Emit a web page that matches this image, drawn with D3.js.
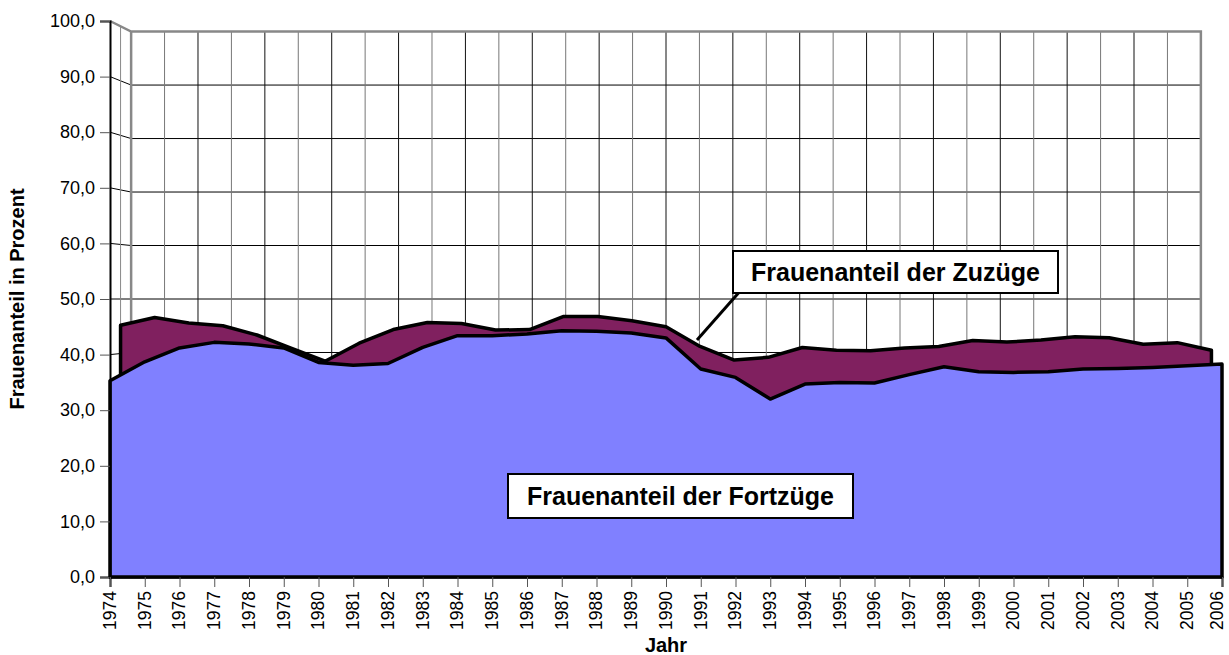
<!DOCTYPE html>
<html>
<head>
<meta charset="utf-8">
<script src="https://cdn.jsdelivr.net/npm/d3@7"></script>
<style>
  body { margin: 0; background: #fff; }
  svg { display: block; font-family: "Liberation Sans", Arial, sans-serif; }
</style>
</head>
<body>
<div id="chart"></div>
<script>
// Data
const years = [1974, 1975, 1976, 1977, 1978, 1979, 1980, 1981, 1982, 1983, 1984,
  1985, 1986, 1987, 1988, 1989, 1990, 1991, 1992, 1993, 1994, 1995, 1996, 1997,
  1998, 1999, 2000, 2001, 2002, 2003, 2004, 2005, 2006];

const fortzuege = [35.3, 38.7, 41.2, 42.2, 41.9, 41.2, 38.6, 38.1, 38.4, 41.3, 43.4,
  43.4, 43.7, 44.3, 44.2, 43.9, 43.0, 37.4, 35.9, 32.0, 34.7, 35.0, 34.9, 36.4,
  37.8, 36.9, 36.8, 36.9, 37.4, 37.5, 37.7, 38.0, 38.3];

const zuzuege = [45.2, 46.6, 45.6, 45.1, 43.4, 41.0, 38.6, 41.9, 44.4, 45.7, 45.5,
  44.3, 44.4, 46.8, 46.8, 46.0, 44.9, 41.3, 38.8, 39.3, 41.1, 40.6, 40.5, 41.0,
  41.3, 42.4, 42.1, 42.5, 43.1, 42.9, 41.7, 42.0, 40.6];

const yTicks = [0, 10, 20, 30, 40, 50, 60, 70, 80, 90, 100];

const labelZuzuege = "Frauenanteil der Zuzüge";
const labelFortzuege = "Frauenanteil der Fortzüge";

const width = 1229, height = 655;
const front = {left: 110, right: 1222, top: 21, bottom: 577};
const center = {x: 666, y: 299};
const backScale = 0.962;   // perspective shrink of the back wall
const midScale = 0.981;    // depth of the back series

const de = d3.formatLocale({decimal: ",", thousands: ".", grouping: [3], currency: ["", "€"]});
const fmt = de.format(".1f");

// scales for a plane at a given perspective factor
const plane = s => ({
  x: d3.scaleLinear().domain([years[0], years[years.length - 1]])
    .range([center.x + (front.left - center.x) * s, center.x + (front.right - center.x) * s]),
  y: d3.scaleLinear().domain([0, 100])
    .range([center.y + (front.bottom - center.y) * s, center.y + (front.top - center.y) * s])
});

const F = plane(1), B = plane(backScale), M = plane(midScale);

const svg = d3.select("#chart").append("svg")
  .attr("width", width).attr("height", height);

// back wall
const wall = svg.append("g");
wall.selectAll("line.h")
  .data(yTicks.filter(v => v > 0 && v < 100))
  .join("line")
    .attr("x1", B.x(years[0])).attr("x2", B.x(2006))
    .attr("y1", d => B.y(d)).attr("y2", d => B.y(d))
    .attr("stroke", "#000").attr("stroke-width", 1);

wall.selectAll("line.v")
  .data(years.slice(1, -1))
  .join("line")
    .attr("x1", d => B.x(d)).attr("x2", d => B.x(d))
    .attr("y1", B.y(100)).attr("y2", B.y(0))
    .attr("stroke", (d, i) => i % 2 ? "#111" : "#777").attr("stroke-width", 1);

// side wall: diagonals from front ticks to back wall
wall.selectAll("line.d")
  .data(yTicks.filter(v => v > 0 && v < 100))
  .join("line")
    .attr("x1", F.x(1974)).attr("x2", B.x(1974))
    .attr("y1", d => F.y(d)).attr("y2", d => B.y(d))
    .attr("stroke", "#000").attr("stroke-width", 1);

wall.append("line")
  .attr("x1", M.x(1974)).attr("x2", M.x(1974))
  .attr("y1", M.y(100)).attr("y2", M.y(0))
  .attr("stroke", "#888").attr("stroke-width", 1);

// wall border
wall.append("path")
  .attr("d", `M${F.x(1974)},${F.y(100)}L${B.x(1974)},${B.y(100)}L${B.x(2006)},${B.y(100)}L${B.x(2006)},${B.y(0)}`)
  .attr("fill", "none").attr("stroke", "#888").attr("stroke-width", 2.5);
wall.append("line")
  .attr("x1", B.x(1974)).attr("x2", B.x(1974))
  .attr("y1", B.y(100)).attr("y2", B.y(0))
  .attr("stroke", "#888").attr("stroke-width", 2.5);

// back series (Zuzüge)
const areaMid = d3.area()
  .x((d, i) => M.x(years[i]))
  .y0(M.y(0))
  .y1(d => M.y(d));

svg.append("path")
  .datum(zuzuege)
  .attr("d", d => areaMid(d) + "Z")
  .attr("fill", "#80205f")
  .attr("stroke", "#000")
  .attr("stroke-width", 3.5)
  .attr("stroke-linejoin", "round");

// front series (Fortzüge)
const areaFront = d3.area()
  .x((d, i) => F.x(years[i]))
  .y0(F.y(0))
  .y1(d => F.y(d));

svg.append("path")
  .datum(fortzuege)
  .attr("d", d => areaFront(d) + "Z")
  .attr("fill", "#8080ff")
  .attr("stroke", "#000")
  .attr("stroke-width", 3.5)
  .attr("stroke-linejoin", "round");

// y axis
const yAxis = svg.append("g")
  .attr("transform", `translate(${front.left},0)`)
  .call(d3.axisLeft(F.y).tickValues(yTicks).tickFormat(fmt).tickSize(10).tickPadding(5));
yAxis.select(".domain").attr("stroke", "#000").attr("stroke-width", 2);
yAxis.selectAll(".tick line").attr("stroke", "#555");
yAxis.selectAll("text")
  .style("font-size", "18px")
  .attr("fill", "#000");

// x axis
const xAxis = svg.append("g")
  .attr("transform", `translate(0,${front.bottom})`)
  .call(d3.axisBottom(F.x).tickValues(years).tickFormat(d3.format("d")).tickSize(10).tickPadding(4));
xAxis.select(".domain").attr("stroke", "#000").attr("stroke-width", 2);
xAxis.selectAll(".tick line").attr("stroke", "#555");
xAxis.selectAll("text")
  .style("font-size", "17.5px")
  .attr("fill", "#000")
  .attr("text-anchor", "end")
  .attr("dy", d => d === 2006 ? "0.05em" : "0.3em")
  .attr("transform", "rotate(-90)")
  .attr("x", -14)
  .attr("y", 0);

// axis titles
svg.append("text")
  .attr("transform", `translate(24,${center.y}) rotate(-90)`)
  .attr("text-anchor", "middle")
  .style("font-size", "20px").style("font-weight", "bold")
  .text("Frauenanteil in Prozent");

svg.append("text")
  .attr("x", center.x).attr("y", 652)
  .attr("text-anchor", "middle")
  .style("font-size", "20px").style("font-weight", "bold")
  .text("Jahr");

// leader line for the Zuzüge label
svg.append("line")
  .attr("x1", 697).attr("y1", 340).attr("x2", 742).attr("y2", 289)
  .attr("stroke", "#000").attr("stroke-width", 3);

// data labels in boxes
function boxLabel(text, x, y, w, h) {
  const g = svg.append("g");
  g.append("rect")
    .attr("x", x).attr("y", y).attr("width", w).attr("height", h)
    .attr("fill", "#fff").attr("stroke", "#000").attr("stroke-width", 2);
  g.append("text")
    .attr("x", x + w / 2).attr("y", y + h / 2)
    .attr("dy", "0.36em")
    .attr("text-anchor", "middle")
    .style("font-size", "25px").style("font-weight", "bold")
    .text(text);
}
boxLabel(labelZuzuege, 733, 251, 325, 42);
boxLabel(labelFortzuege, 508, 474, 345, 44);
</script>
</body>
</html>
